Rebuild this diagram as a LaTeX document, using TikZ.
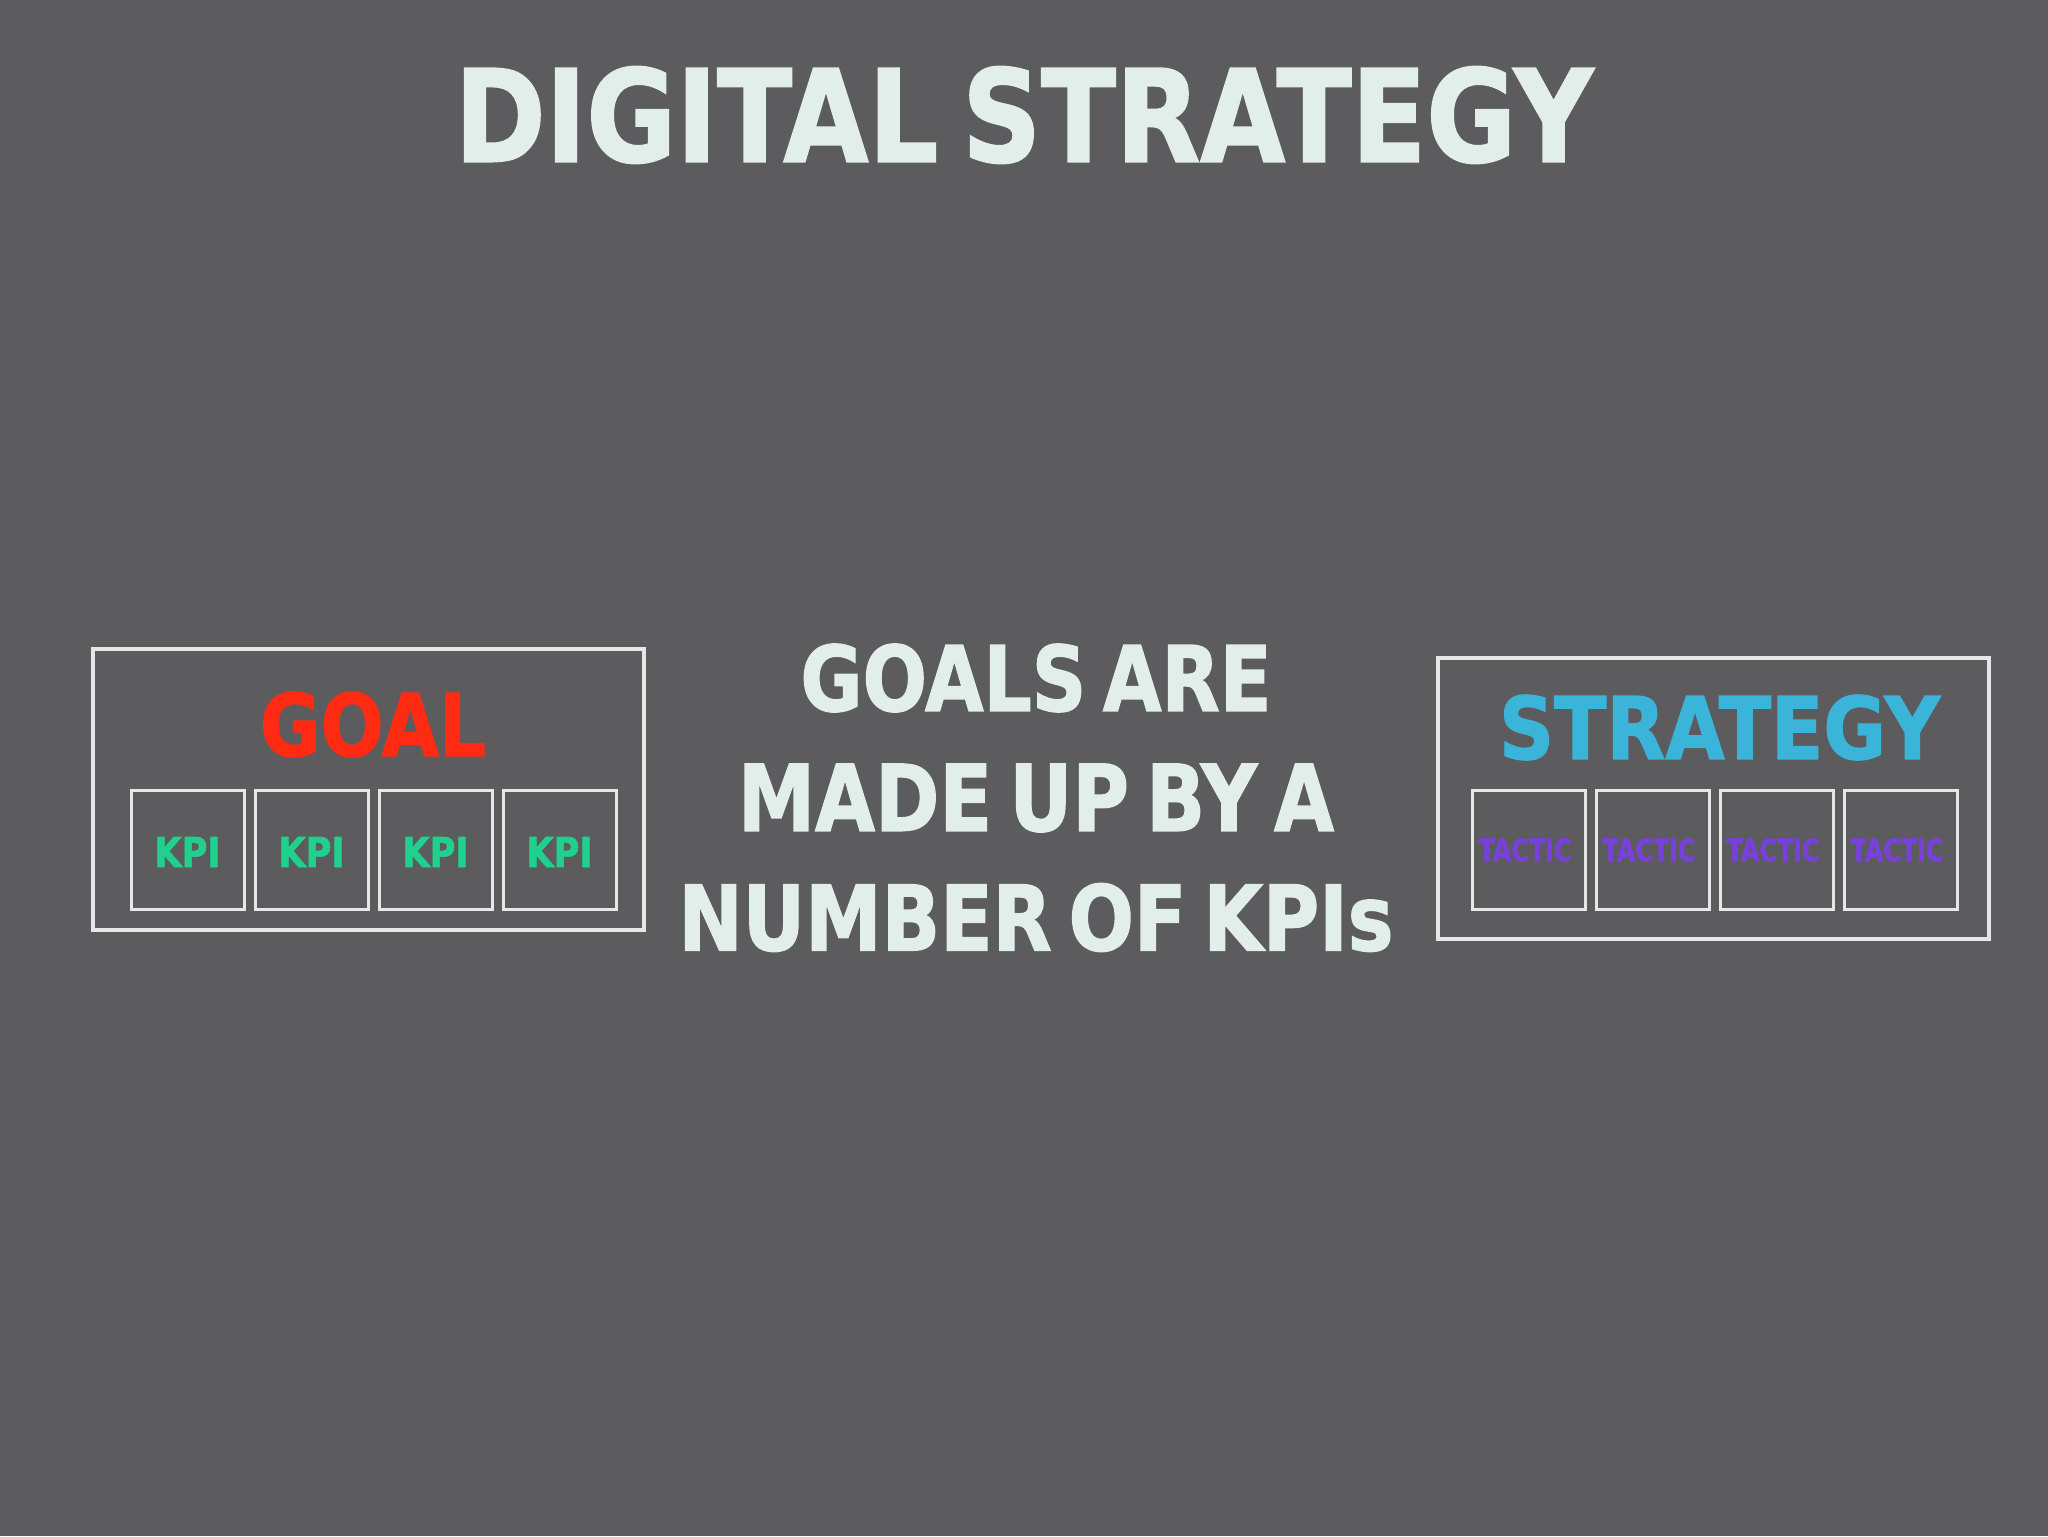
\documentclass[tikz,border=0pt]{standalone}
\usepackage{fontspec}
\setmainfont{DejaVu Sans}[BoldFeatures={FakeBold=1.6}]
\definecolor{bg}{HTML}{5C5C5E}
\definecolor{lighttext}{HTML}{E2EEEA}
\definecolor{boxline}{HTML}{E6E8E8}
\definecolor{goalred}{HTML}{FF2A12}
\definecolor{kpigreen}{HTML}{20D08C}
\definecolor{stratblue}{HTML}{3AB4D8}
\definecolor{tacticpurple}{HTML}{7840DC}
\newcommand{\fitw}[3]{\resizebox{#1pt}{#2pt}{\bfseries\spaceskip=0.22em #3}}
\tikzset{
  outerbox/.style={draw=boxline, line width=1.6pt, inner sep=0pt, minimum width=275.5pt, minimum height=140.5pt},
  cellbox/.style={draw=boxline, line width=1.5pt, inner sep=0pt, minimum width=56.5pt, minimum height=59.5pt},
  txt/.style={inner sep=0pt, outer sep=0pt}
}
\begin{document}
\begin{tikzpicture}[x=0.5pt,y=-0.5pt]
\fill[bg] (0,0) rectangle (2048,1536);
\useasboundingbox (0,0) rectangle (2048,1536);
% title
\node[txt, text=lighttext] (title) at (1024,115) {\fitw{569}{47.5}{DIGITAL STRATEGY}};
% left goal box
\node[outerbox] (goalbox) at (368.5,789.5) {};
\node[txt, text=goalred] (goal) at (373,724.5) {\fitw{113}{32}{GOAL}};
\foreach \i/\x in {1/187.5,2/311.5,3/435.5,4/559.5}{
  \node[cellbox] (kpi\i) at (\x,849.5) {};
  \node[txt, text=kpigreen] (kpit\i) at (\x,852) {\fitw{33}{15}{KPI}};
}
% centre text
\node[txt, text=lighttext] (l1) at (1036,678) {\fitw{235.5}{33.5}{GOALS ARE}};
\node[txt, text=lighttext] (l2) at (1036,798) {\fitw{298}{33.5}{MADE UP BY A}};
\node[txt, text=lighttext] (l3) at (1036,917.5) {\fitw{357.5}{33.5}{NUMBER OF KPIs}};
% right strategy box
\node[outerbox] (stratbox) at (1713.5,798.5) {};
\node[txt, text=stratblue] (strat) at (1719.5,727.5) {\fitw{220.5}{32}{STRATEGY}};
\foreach \i/\x in {1/1529,2/1653,3/1777,4/1901}{
  \node[cellbox] (tac\i) at (\x,849.5) {};
  \node[txt, text=tacticpurple] (tact\i) at (\x-4,850) {\fitw{46.5}{11.5}{TACTIC}};
}
\end{tikzpicture}
\end{document}
